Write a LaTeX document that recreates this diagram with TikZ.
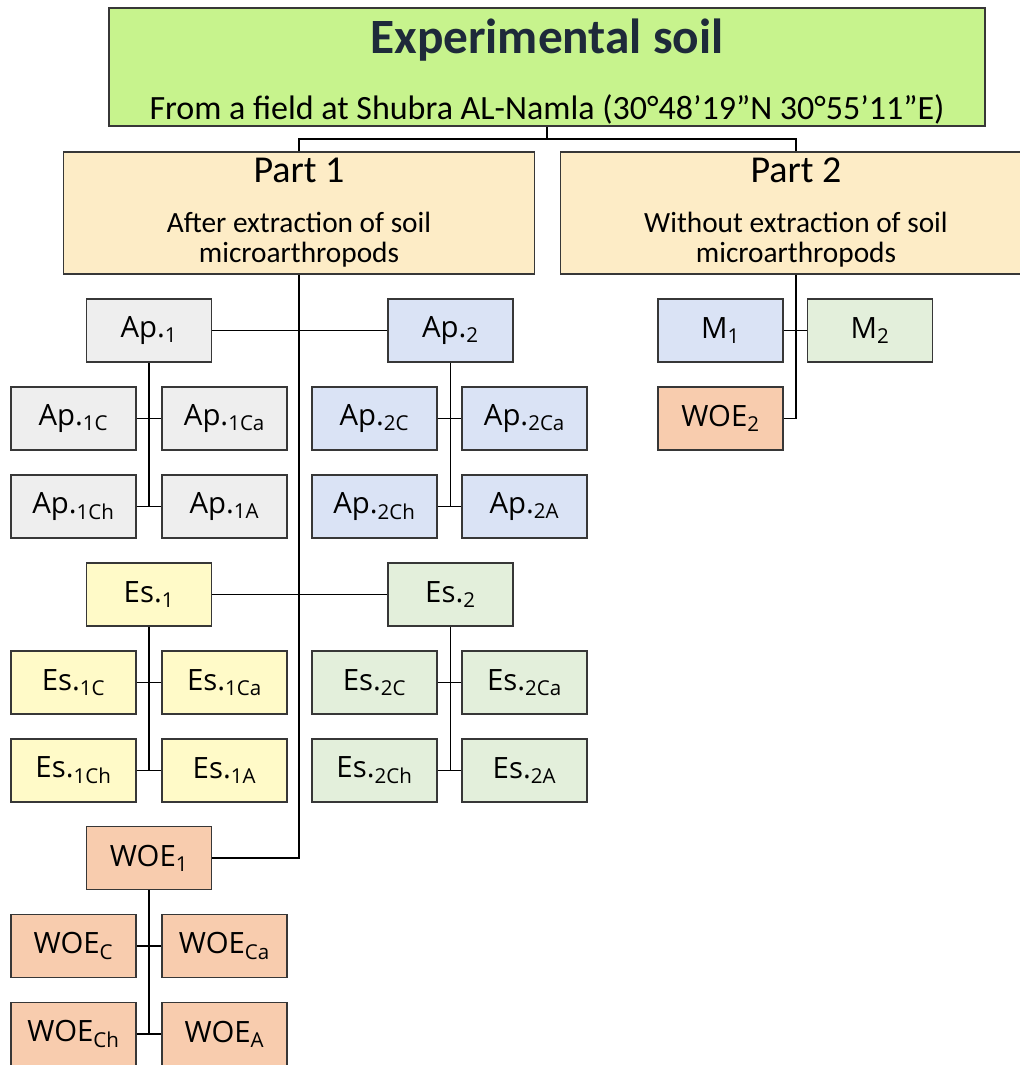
\documentclass[tikz,border=0pt]{standalone}
\usepackage{fontspec}
\setmainfont{Carlito}
\newfontfamily\leaffont{Open Sans}
\definecolor{soilgreen}{RGB}{199,243,141}
\definecolor{partpeach}{RGB}{253,236,198}
\definecolor{apgrey}{RGB}{238,238,238}
\definecolor{apblue}{RGB}{218,227,245}
\definecolor{esyellow}{RGB}{255,250,200}
\definecolor{esgreen}{RGB}{227,239,219}
\definecolor{woeorange}{RGB}{248,204,174}
\definecolor{boxline}{RGB}{55,55,55}
\definecolor{titleink}{RGB}{30,42,58}
\begin{document}
\begin{tikzpicture}[x=0.75pt, y=-0.75pt,
    box/.style={draw=boxline, line width=1pt, inner sep=0pt},
    leaf/.style={box, minimum width=93.75pt, minimum height=47.25pt, font=\leaffont\fontsize{22}{26}\selectfont},
    part/.style={box, fill=partpeach, minimum width=353pt, minimum height=91.5pt, align=center, font=\fontsize{22}{22.5}\selectfont},
    link/.style={line width=1pt, black}]
    \useasboundingbox (0,0) rectangle (1020,1065);

    \node[box, fill=soilgreen, minimum width=657pt, minimum height=88.5pt, align=center, font=\fontsize{25.5}{50}\selectfont] (soil) at (547,67) {\rule{0pt}{33pt}{\color{titleink}\fontsize{37}{50}\selectfont\bfseries Experimental soil}\\From a field at Shubra AL-Namla (30°48’19”N 30°55’11”E)};
    \node[part] (part1) at (299,213) {{\fontsize{28.5}{30}\selectfont Part 1}\\[15pt]After extraction of soil\\microarthropods};
    \node[part] (part2) at (796,213) {{\fontsize{28.5}{30}\selectfont Part 2}\\[15pt]Without extraction of soil\\microarthropods};
    \coordinate (fork) at (547,139);

    \node[leaf, fill=apgrey] (ap1) at (149,330.5) {Ap.\textsubscript{1}};
    \node[leaf, fill=apblue] (ap2) at (450.5,330.5) {Ap.\textsubscript{2}};
    \node[leaf, fill=apgrey] (ap1c) at (73.5,418.5) {Ap.\textsubscript{1C}};
    \node[leaf, fill=apgrey] (ap1ca) at (224.5,418.5) {Ap.\textsubscript{1Ca}};
    \node[leaf, fill=apgrey] (ap1ch) at (73.5,506.5) {Ap.\textsubscript{1Ch}};
    \node[leaf, fill=apgrey] (ap1a) at (224.5,506.5) {Ap.\textsubscript{1A}};
    \node[leaf, fill=apblue] (ap2c) at (374.5,418.5) {Ap.\textsubscript{2C}};
    \node[leaf, fill=apblue] (ap2ca) at (524.5,418.5) {Ap.\textsubscript{2Ca}};
    \node[leaf, fill=apblue] (ap2ch) at (374.5,506.5) {Ap.\textsubscript{2Ch}};
    \node[leaf, fill=apblue] (ap2a) at (524.5,506.5) {Ap.\textsubscript{2A}};

    \node[leaf, fill=esyellow] (es1) at (149,594.5) {Es.\textsubscript{1}};
    \node[leaf, fill=esgreen] (es2) at (450.5,594.5) {Es.\textsubscript{2}};
    \node[leaf, fill=esyellow] (es1c) at (73.5,682.5) {Es.\textsubscript{1C}};
    \node[leaf, fill=esyellow] (es1ca) at (224.5,682.5) {Es.\textsubscript{1Ca}};
    \node[leaf, fill=esyellow] (es1ch) at (73.5,770.5) {Es.\textsubscript{1Ch}};
    \node[leaf, fill=esyellow] (es1a) at (224.5,770.5) {Es.\textsubscript{1A}};
    \node[leaf, fill=esgreen] (es2c) at (374.5,682.5) {Es.\textsubscript{2C}};
    \node[leaf, fill=esgreen] (es2ca) at (524.5,682.5) {Es.\textsubscript{2Ca}};
    \node[leaf, fill=esgreen] (es2ch) at (374.5,770.5) {Es.\textsubscript{2Ch}};
    \node[leaf, fill=esgreen] (es2a) at (524.5,770.5) {Es.\textsubscript{2A}};

    \node[leaf, fill=woeorange] (woe1) at (149,858) {WOE\textsubscript{1}};
    \node[leaf, fill=woeorange] (woec) at (73.5,946) {WOE\textsubscript{C}};
    \node[leaf, fill=woeorange] (woeca) at (224.5,946) {WOE\textsubscript{Ca}};
    \node[leaf, fill=woeorange] (woech) at (73.5,1034) {WOE\textsubscript{Ch}};
    \node[leaf, fill=woeorange] (woea) at (224.5,1034) {WOE\textsubscript{A}};

    \node[leaf, fill=apblue] (m1) at (720.5,330.5) {M\textsubscript{1}};
    \node[leaf, fill=esgreen] (m2) at (870,330.5) {M\textsubscript{2}};
    \node[leaf, fill=woeorange] (woe2) at (720.5,418.5) {WOE\textsubscript{2}};

    \draw[link] (soil.south) -- (fork);
    \draw[link] (part1.north) |- (fork) -| (part2.north);
    \draw[link] (part1.south) |- (woe1.east);
    \draw[link] (ap1.east) -- (ap2.west);
    \draw[link] (es1.east) -- (es2.west);
    \draw[link] (part2.south) |- (woe2.east);
    \draw[link] (m1.east) -- (m2.west);

    \draw[link] (ap1.south) |- (ap1ch.east);
    \draw[link] (ap1c.east) -- (ap1ca.west);
    \draw[link] (ap1ch.east) -- (ap1a.west);
    \draw[link] (ap2.south) |- (ap2ch.east);
    \draw[link] (ap2c.east) -- (ap2ca.west);
    \draw[link] (ap2ch.east) -- (ap2a.west);
    \draw[link] (es1.south) |- (es1ch.east);
    \draw[link] (es1c.east) -- (es1ca.west);
    \draw[link] (es1ch.east) -- (es1a.west);
    \draw[link] (es2.south) |- (es2ch.east);
    \draw[link] (es2c.east) -- (es2ca.west);
    \draw[link] (es2ch.east) -- (es2a.west);
    \draw[link] (woe1.south) |- (woech.east);
    \draw[link] (woec.east) -- (woeca.west);
    \draw[link] (woech.east) -- (woea.west);
\end{tikzpicture}
\end{document}
